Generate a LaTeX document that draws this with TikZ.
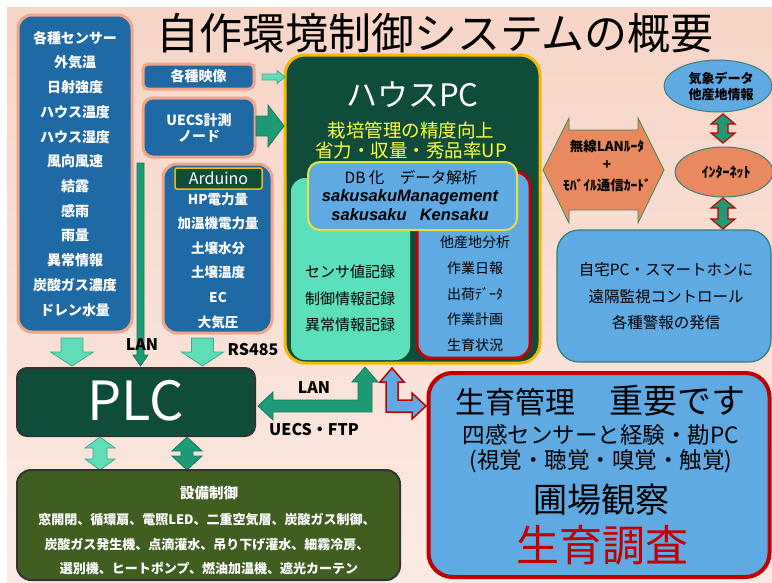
\documentclass[tikz,border=0pt]{standalone}
\usepackage{fontspec}
\setmainfont{Noto Sans CJK JP}
\newfontfamily\arialf{Liberation Sans}
\usetikzlibrary{shapes.geometric,calc}
\definecolor{bgtop}{HTML}{F7D5C7}
\definecolor{bgbot}{HTML}{FBEAE3}
\definecolor{boxblue}{HTML}{1F6AA5}
\definecolor{salmonB}{HTML}{EFA48B}
\definecolor{dkgreen}{HTML}{0F4C3A}
\definecolor{mint}{HTML}{5CDFBB}
\definecolor{ltblue}{HTML}{5FAAE2}
\definecolor{tealA}{HTML}{1E9A77}
\definecolor{tealB}{HTML}{137A5C}
\definecolor{ltgreen}{HTML}{5EDDB8}
\definecolor{ltgB}{HTML}{3FA98A}
\definecolor{salmonF}{HTML}{E8895F}
\definecolor{oliveF}{HTML}{3F5E20}
\definecolor{gold}{HTML}{F5B700}
\definecolor{dkred}{HTML}{C00000}
\definecolor{yel}{HTML}{FFFF3C}
\definecolor{homeB}{HTML}{2F7F6F}
\definecolor{ellB}{HTML}{3E7F77}
\definecolor{rgreen}{HTML}{3C8A5A}
\newcommand\vdarr[7]{\draw[#7] (#1,#2) -- (#1+#5,#2+#6) -- (#1+#4,#2+#6) -- (#1+#4,#3-#6) -- (#1+#5,#3-#6) -- (#1,#3) -- (#1-#5,#3-#6) -- (#1-#4,#3-#6) -- (#1-#4,#2+#6) -- (#1-#5,#2+#6) -- cycle;}
\newcommand\dnarr[7]{\draw[#7] (#1-#4,#2) -- (#1+#4,#2) -- (#1+#4,#3-#6) -- (#1+#5,#3-#6) -- (#1,#3) -- (#1-#5,#3-#6) -- (#1-#4,#3-#6) -- cycle;}
\newcommand\rtarr[7]{\draw[#7] (#2,#1-#4) -- (#2,#1+#4) -- (#3-#6,#1+#4) -- (#3-#6,#1+#5) -- (#3,#1) -- (#3-#6,#1-#5) -- (#3-#6,#1-#4) -- cycle;}
\tikzset{
  fs/.style={font=\fontsize{#1}{#1}\selectfont, inner sep=0pt},
  fsb/.style={font=\fontsize{#1}{#1}\selectfont\bfseries, inner sep=0pt},
  wt/.style={text=white},
  bluebox/.style={draw=salmonB, line width=3pt, fill=boxblue, inner sep=0pt},
  lgarr/.style={fill=ltgreen, draw=ltgB, line width=0.8pt},
  tarr/.style={fill=tealA, draw=tealB, line width=0.8pt},
  rgarr/.style={fill=tealA, draw=dkred, line width=1.2pt},
}
\begin{document}
\begin{tikzpicture}[x=1pt,y=-1pt]
\useasboundingbox (0,0) rectangle (772,582);
\fill[white] (0,0) rectangle (772,582);
\shade[top color=bgtop,bottom color=bgbot] (7,7) rectangle (772,582);

% title
\node[fs=43] (title) at (435,33) {自作環境制御システムの概要};

% sensor box
\node[bluebox, rounded corners=14pt, minimum width=114pt, minimum height=317pt] (sens) at (75,173.5) {};
\foreach \t [count=\i] in {各種センサー,外気温,日射強度,ハウス温度,ハウス湿度,風向風速,結露,感雨,雨量,異常情報,炭酸ガス濃度,ドレン水量}
  \node[wt,fsb=14] (s\i) at (75,{38+24.73*(\i-1)}) {\t};

% video & UECS node
\node[bluebox, rounded corners=5pt, minimum width=111pt, minimum height=25pt] (vid) at (198.5,76.5) {};
\node[wt,fsb=14] (vidt) at (198.5,76.5) {各種映像};
\node[bluebox, rounded corners=10pt, minimum width=112pt, minimum height=59pt] (uecs) at (199,127.5) {};
\node[wt,fsb=14] (uecs1) at (199,120) {UECS計測};
\node[wt,fsb=14] (uecs2) at (199,136) {ノード};

% Arduino box
\node[bluebox, rounded corners=14pt, minimum width=109pt, minimum height=169pt] (ard) at (217.5,248.5) {};
\node[draw=gold, line width=1.5pt, fill=dkgreen, rounded corners=2pt, minimum width=87pt, minimum height=21pt, text=white, font=\fontsize{16}{16}\selectfont, inner sep=0pt] (ardl) at (218.5,178.5) {Arduino};
\foreach \t [count=\i] in {HP電力量,加温機電力量,土壌水分,土壌温度,EC,大気圧}
  \node[wt,fsb=13.5] (a\i) at (218,{199+24.6*(\i-1)}) {\t};

% House PC
\node[draw=gold, line width=3pt, fill=dkgreen, rounded corners=20pt, minimum width=255pt, minimum height=308pt, inner sep=0pt] (pc) at (412.5,209) {};
\node[wt,fs=31] (pct) at (412.5,95) {ハウスPC};
\node[text=yel,fs=18.5] (y1) at (411,130) {栽培管理の精度向上};
\node[text=yel,fs=18.5] (y2) at (411,150) {省力・収量・秀品率UP};
\node[fill=mint, rounded corners=14pt, minimum width=119pt, minimum height=182pt, inner sep=0pt] (mint) at (350.5,269) {};
\node[fill=ltblue, draw=dkred, line width=3pt, rounded corners=14pt, minimum width=113pt, minimum height=186pt, inner sep=0pt] (redb) at (473.5,265) {};
\node[fill=ltblue, draw=yel!90!black, line width=2pt, rounded corners=12pt, minimum width=209pt, minimum height=68pt, inner sep=0pt] (db) at (412.5,196) {};
\node[fs=15.5] (db1) at (411,178) {DB 化\hspace{1em}データ解析};
\node[font=\arialf\bfseries\itshape\fontsize{16.5}{16.5}\selectfont, inner sep=0pt] (db2) at (410,197) {sakusakuManagement};
\node[font=\arialf\bfseries\itshape\fontsize{16.5}{16.5}\selectfont, inner sep=0pt] (db3) at (410,215) {sakusaku\hspace{0.8em}Kensaku};
\foreach \t [count=\i] in {センサ値記録,制御情報記録,異常情報記録}
  \node[fs=15] (m\i) at (350,{272+26.5*(\i-1)}) {\t};
\foreach \t [count=\i] in {他産地分析,作業日報,出荷ﾃﾞｰﾀ,作業計画,生育状況}
  \node[fs=14] (r\i) at (475,{242+25.8*(\i-1)}) {\t};

% arrows into PC
\rtarr{77}{262}{285}{3}{6.5}{8}{lgarr}
\rtarr{126}{256}{284}{10}{21}{16}{tarr}

% router
\draw[fill=salmonF, draw=rgreen, line width=0.8pt] (543,170) -- (569,118) -- (569,130) -- (638,130) -- (638,118) -- (664,170) -- (638,223) -- (638,210) -- (569,210) -- (569,223) -- cycle;
\node[fsb=13.5] (ro1) at (607,146) {無線LANﾙｰﾀ};
\node[fsb=13.5] (ro2) at (607,165) {+};
\node[fsb=13.5] (ro3) at (607,185) {ﾓﾊﾞｲﾙ通信ｶｰﾄﾞ};

% weather / internet
\node[ellipse, draw=ellB, line width=1pt, fill=ltblue, minimum width=108pt, minimum height=52pt, inner sep=0pt] (wx) at (718,86) {};
\node[fsb=13] (wx1) at (721,79) {気象データ};
\node[fsb=13] (wx2) at (721,95) {他産地情報};
\node[ellipse, draw=ellB, line width=1pt, fill=salmonF, minimum width=98pt, minimum height=50pt, inner sep=0pt] (inet) at (724,172) {};
\node[fsb=14] (inett) at (726,172) {ｲﾝﾀｰﾈｯﾄ};
\vdarr{723}{114}{143}{5}{12}{10}{rgarr}
\vdarr{723}{198}{229}{5}{12}{10}{rgarr}

% home box
\node[fill=ltblue, draw=homeB, line width=1.2pt, rounded corners=22pt, minimum width=214pt, minimum height=132pt, inner sep=0pt] (home) at (664,296) {};
\node[fs=15.5] (h1) at (666,270) {自宅PC・スマートホンに};
\node[fs=15.5] (h2) at (666,297) {遠隔監視コントロール};
\node[fs=15.5] (h3) at (666,323) {各種警報の発信};

% PLC
\node[fill=dkgreen, draw=black!80, line width=2pt, rounded corners=10pt, minimum width=238pt, minimum height=68pt, inner sep=0pt] (plc) at (136,402) {};
\node[wt,fs=54] (plct) at (136,401) {PLC};

% arrows into PLC
\dnarr{72}{338}{366}{11}{21.5}{14}{lgarr}
\dnarr{202.5}{338}{366}{11}{21}{14}{lgarr}
\draw[tarr] (137,163) -- (144,163) -- (144,355) -- (148,355) -- (140.5,366) -- (133,355) -- (137,355) -- cycle;
\node[fsb=16] (lan1) at (142,345) {LAN};
\node[fsb=16] (rs) at (253,350) {RS485};

% LAN L arrow PC <-> PLC
\draw[tarr] (365,367) -- (378,382) -- (372,382) -- (372,412) -- (273,412) -- (273,420) -- (258,406) -- (273,392) -- (273,400) -- (358,400) -- (358,382) -- (352,382) -- cycle;
\node[fsb=16] (lan2) at (314,388) {LAN};
\node[fsb=16] (ftp) at (314,430) {UECS・FTP};

% PC <-> growth box arrow
\draw[fill=ltblue, draw=dkred, line width=1.5pt] (392,368) -- (404,382) -- (398,382) -- (398,400) -- (412,400) -- (412,393) -- (426,406) -- (412,419) -- (412,412) -- (386,412) -- (386,382) -- (380,382) -- cycle;

% equipment
\vdarr{100}{437}{470}{7}{15}{11}{lgarr}
\vdarr{187}{437}{470}{6}{15}{14}{tarr}
\node[fill=oliveF, draw=black!80, line width=2pt, rounded corners=14pt, minimum width=383pt, minimum height=110pt, inner sep=0pt] (eq) at (208.5,525) {};
\node[wt,fsb=14.5] (eq0) at (209,493) {設備制御};
\node[wt,fsb=13] (eq1) at (207,520) {窓開閉、循環扇、電照LED、二重空気層、炭酸ガス制御、};
\node[wt,fsb=13] (eq2) at (207,545) {炭酸ガス発生機、点滴灌水、吊り下げ灌水、細霧冷房、};
\node[wt,fsb=13] (eq3) at (209,568) {選別機、ヒートポンプ、燃油加温機、遮光カーテン};

% growth management
\node[fill=ltblue, draw=dkred, line width=4pt, rounded corners=24pt, minimum width=341pt, minimum height=204pt, inner sep=0pt] (grow) at (599,475) {};
\node[fs=30] (g1a) at (515,402) {生育管理};
\node[fs=34] (g1b) at (677,401) {重要です};
\node[fs=22.5] (g2) at (601,435) {四感センサーと経験・勘PC};
\node[fs=22.5] (g3) at (601,461) {(視覚・聴覚・嗅覚・触覚)};
\node[fs=34] (g4) at (601,500) {圃場観察};
\node[text=dkred,fs=43] (g5) at (602,545) {生育調査};
\end{tikzpicture}
\end{document}
